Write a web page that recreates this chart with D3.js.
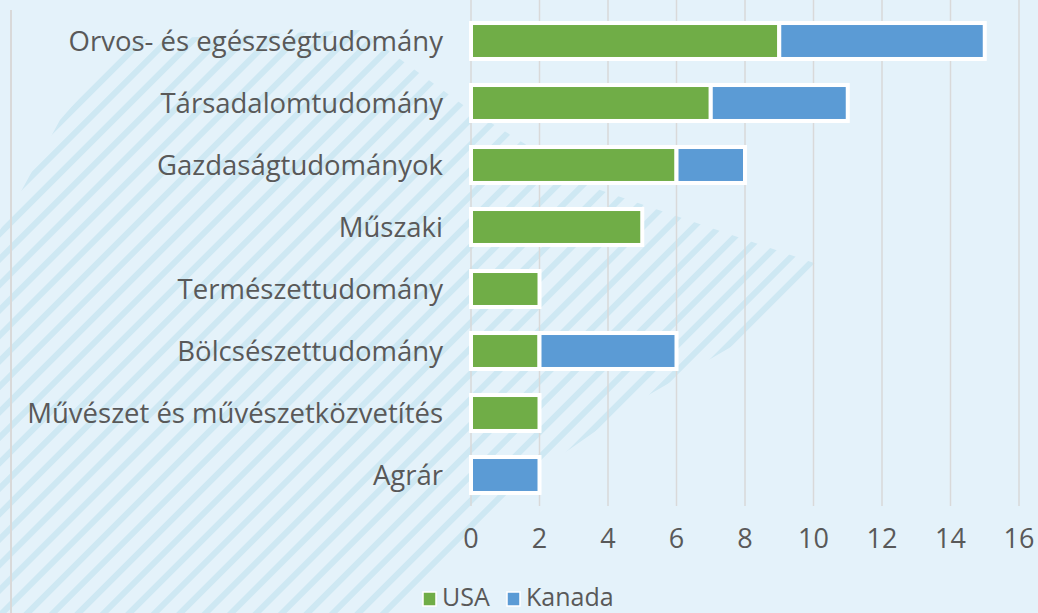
<!DOCTYPE html>
<html>
<head>
<meta charset="utf-8">
<script src="https://cdn.jsdelivr.net/npm/d3@7"></script>
<style>
  html, body { margin: 0; padding: 0; background: #e4f2fa; }
  svg { display: block; }
  text { font-family: "Open Sans", sans-serif; fill: #595959; }
</style>
</head>
<body>
<svg id="chart" width="1038" height="613"></svg>
<script>
const categories = [
    "Orvos- és egészségtudomány",
    "Társadalomtudomány",
    "Gazdaságtudományok",
    "Műszaki",
    "Természettudomány",
    "Bölcsészettudomány",
    "Művészet és művészetközvetítés",
    "Agrár"
];
const usaValues = [9, 7, 6, 5, 2, 2, 2, 0];
const kanadaValues = [6, 4, 2, 0, 0, 4, 0, 2];
const seriesNames = ["USA", "Kanada"];
const seriesColors = ["#70ad47", "#5b9bd5"];
const xTicks = [0, 2, 4, 6, 8, 10, 12, 14, 16];

const width = 1038, height = 613;
const margin = {top: 10, right: 19, bottom: 116, left: 471};

const svg = d3.select("#chart");

// decorative stripes in the background
const defs = svg.append("defs");
defs.append("pattern")
    .attr("id", "stripes")
    .attr("patternUnits", "userSpaceOnUse")
    .attr("width", 18)
    .attr("height", 18)
    .attr("patternTransform", "rotate(45)")
    .append("rect")
    .attr("width", 6)
    .attr("height", 18)
    .attr("fill", "#c6e4f0");

const blob = [[0, 230], [60, 120], [130, 40], [360, 30], [470, 110], [600, 190], [820, 265],
    [760, 330], [640, 400], [540, 470], [450, 560], [400, 613], [0, 613]];
svg.append("path")
    .attr("d", d3.line()(blob) + "Z")
    .attr("fill", "url(#stripes)")
    .attr("opacity", 0.75);

// left border line
svg.append("line")
    .attr("x1", 11).attr("x2", 11)
    .attr("y1", 10).attr("y2", height)
    .attr("stroke", "#d9d9d9")
    .attr("stroke-width", 2);

const x = d3.scaleLinear()
    .domain([0, 16])
    .range([margin.left, width - margin.right]);

const y = d3.scaleBand()
    .domain(categories)
    .range([margin.top, height - margin.bottom + 9])
    .paddingInner(0.42)
    .paddingOuter(0.21);

// gridlines
svg.append("g")
    .attr("class", "grid")
    .selectAll("line")
    .data(xTicks)
    .enter().append("line")
    .attr("x1", function(d) { return x(d); })
    .attr("x2", function(d) { return x(d); })
    .attr("y1", 0)
    .attr("y2", 506)
    .attr("stroke", "#d9d9d9")
    .attr("stroke-width", 1.5);

// stacked bars
const rows = categories.map(function(c, i) {
    return {cat: c, USA: usaValues[i], Kanada: kanadaValues[i]};
});
const stacked = d3.stack().keys(seriesNames)(rows);

svg.append("g")
    .selectAll("g")
    .data(stacked)
    .enter().append("g")
    .attr("fill", function(d, i) { return seriesColors[i]; })
    .selectAll("rect")
    .data(function(d) { return d.filter(function(p) { return p[1] - p[0] > 0; }); })
    .enter().append("rect")
    .attr("x", function(d) { return x(d[0]); })
    .attr("y", function(d) { return y(d.data.cat); })
    .attr("width", function(d) { return x(d[1]) - x(d[0]); })
    .attr("height", y.bandwidth())
    .attr("stroke", "#ffffff")
    .attr("stroke-width", 4);

// category labels
svg.append("g")
    .selectAll("text")
    .data(categories)
    .enter().append("text")
    .attr("x", 443)
    .attr("y", function(d) { return y(d) + y.bandwidth() / 2; })
    .attr("dy", "0.35em")
    .attr("text-anchor", "end")
    .attr("font-size", 27.5)
    .text(function(d) { return d; });

// x tick labels
svg.append("g")
    .selectAll("text")
    .data(xTicks)
    .enter().append("text")
    .attr("x", function(d) { return x(d); })
    .attr("y", 548)
    .attr("text-anchor", "middle")
    .attr("font-size", 27)
    .text(function(d) { return d; });

// legend
const legend = svg.append("g")
    .selectAll("g")
    .data(seriesNames)
    .enter().append("g")
    .attr("transform", function(d, i) { return "translate(" + [423, 507][i] + ",592)"; });

legend.append("rect")
    .attr("width", 13)
    .attr("height", 14)
    .attr("fill", function(d, i) { return seriesColors[i]; })
    .attr("stroke", "#ffffff")
    .attr("stroke-width", 1.5);

legend.append("text")
    .attr("x", 19)
    .attr("y", 14)
    .attr("font-size", 25)
    .text(function(d) { return d; });
</script>
</body>
</html>
